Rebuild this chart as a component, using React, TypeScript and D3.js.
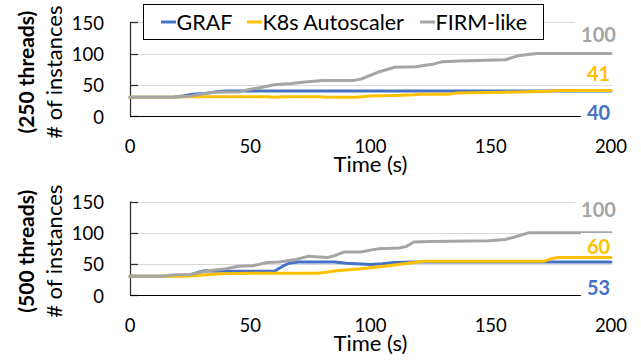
import { useEffect, useRef } from 'react'
import * as d3 from 'd3'

const W = 641
const H = 360
const FONT = 'Lato, Carlito, Calibri, sans-serif'

const X_TICKS = [0, 50, 100, 150, 200]
const Y_TICKS = [0, 50, 100, 150]
const SERIES_NAMES = ['GRAF', 'K8s Autoscaler', 'FIRM-like']
const COLORS = ['#4472C4', '#FFC000', '#A5A5A5']
const PANEL_TITLES = ['(250 threads)', '(500 threads)']

// [time (s), # of instances]
const GRAF_250 = [[0, 30], [18, 30], [22, 32], [26, 35], [31, 36], [36, 39], [40, 40], [200, 40]]
const K8S_250 = [[0, 30], [18, 30], [22, 31], [57, 31], [60, 30], [64, 31], [78, 31], [82, 30], [94, 30], [100, 32], [110, 33], [118, 34], [121, 35], [133, 35], [136, 37], [155, 38], [165, 39], [175, 40], [180, 41], [200, 41]]
const FIRM_250 = [[0, 30], [19, 30], [25, 32], [30, 35], [35, 38], [46, 39], [49, 42], [55, 46], [60, 50], [67, 52], [74, 55], [80, 57], [93, 57], [96, 59], [103, 70], [110, 78], [119, 79], [122, 81], [126, 83], [130, 87], [137, 88], [156, 90], [162, 97], [169, 100], [200, 100]]

const GRAF_500 = [[0, 30], [14, 30], [16, 31], [25, 32], [28, 36], [31, 39], [36, 38], [60, 38], [63, 45], [66, 51], [70, 53], [85, 53], [90, 51], [100, 49], [105, 50], [110, 52], [118, 53], [200, 53]]
const K8S_500 = [[0, 30], [22, 30], [30, 32], [38, 34], [50, 35], [78, 35], [82, 37], [86, 39], [96, 42], [103, 45], [110, 48], [118, 52], [122, 54], [172, 54], [175, 58], [178, 60], [200, 60]]
const FIRM_500 = [[0, 30], [14, 30], [17, 32], [25, 33], [31, 38], [40, 42], [45, 46], [51, 47], [57, 52], [62, 53], [69, 57], [74, 62], [82, 60], [85, 63], [89, 69], [96, 69], [100, 72], [103, 74], [112, 75.5], [115, 78], [118, 85], [125, 86], [149, 87], [156, 89], [160, 93], [166, 100], [200, 100]]

const FINAL_250 = [40, 41, 100]
const FINAL_500 = [53, 60, 100]

const PANELS = [
  { title: PANEL_TITLES[0], series: [GRAF_250, K8S_250, FIRM_250], finals: FINAL_250, y0: 116, y1: 22.3, labelY: [113, 73.5, 34.5] },
  { title: PANEL_TITLES[1], series: [GRAF_500, K8S_500, FIRM_500], finals: FINAL_500, y0: 295, y1: 201.5, labelY: [287.5, 247, 209.5] },
]

function drawPanel(svg: any, p: any) {
  const x = d3.scaleLinear().domain([0, 200]).range([130, 611])
  const y = d3.scaleLinear().domain([0, 150]).range([p.y0, p.y1])
  const g = svg.append('g')
  const py = (d: number) => Math.round(y(d)) + 0.5

  // gridlines
  g.selectAll('.grid').data(Y_TICKS.slice(1)).join('line')
    .attr('x1', 130).attr('x2', 612)
    .attr('y1', py).attr('y2', py)
    .attr('stroke', '#D9D9D9').attr('stroke-width', 1)

  // y axis
  g.append('line').attr('x1', 130.5).attr('x2', 130.5).attr('y1', y(150)).attr('y2', y(0))
    .attr('stroke', '#333').attr('stroke-width', 1.3)
  g.selectAll('.ytick').data(Y_TICKS).join('line')
    .attr('x1', 130).attr('x2', 138)
    .attr('y1', py).attr('y2', py)
    .attr('stroke', '#333').attr('stroke-width', 1.3)
  g.selectAll('.ylab').data(Y_TICKS).join('text')
    .attr('x', 104).attr('y', (d: number) => y(d) + 7.5)
    .attr('text-anchor', 'end').attr('font-family', FONT).attr('font-size', 18.5).attr('fill', '#000')
    .text((d: number) => d)

  // x axis
  g.append('line').attr('x1', 130).attr('x2', 612).attr('y1', py(0)).attr('y2', py(0))
    .attr('stroke', '#000').attr('stroke-width', 1.2)
  g.selectAll('.xlab').data(X_TICKS).join('text')
    .attr('x', (d: number) => x(d)).attr('y', y(0) + 37)
    .attr('text-anchor', 'middle').attr('font-family', FONT).attr('font-size', 18.5).attr('fill', '#000')
    .text((d: number) => d)
  g.append('text').attr('x', x(100)).attr('y', y(0) + 56)
    .attr('text-anchor', 'middle').attr('font-family', FONT).attr('font-size', 22).attr('fill', '#000')
    .text('Time (s)')

  // y titles
  const cy = (p.y0 + p.y1) / 2 + 3
  g.append('text').attr('transform', `translate(25,${cy}) rotate(-90)`)
    .attr('text-anchor', 'middle').attr('dominant-baseline', 'central')
    .attr('font-family', FONT).attr('font-size', 21).attr('font-weight', 700).text(p.title)
  g.append('text').attr('transform', `translate(53.5,${cy}) rotate(-90)`)
    .attr('text-anchor', 'middle').attr('dominant-baseline', 'central')
    .attr('font-family', FONT).attr('font-size', 22).text('# of instances')

  // series
  const line = d3.line<number[]>().x(d => x(d[0])).y(d => y(d[1]))
  p.series.forEach((s: number[][], i: number) => {
    g.append('path').datum(s).attr('d', line)
      .attr('fill', 'none').attr('stroke', COLORS[i]).attr('stroke-width', 3)
      .attr('stroke-linejoin', 'round').attr('stroke-linecap', 'round')
  })

  // end labels (white text boxes)
  p.finals.forEach((v: number, i: number) => {
    const cyL = p.labelY[i]
    const t = g.append('text').attr('x', 598.5).attr('y', cyL + 7)
      .attr('text-anchor', 'middle').attr('font-family', FONT).attr('font-size', 20)
      .attr('font-weight', 700).attr('fill', COLORS[i]).text(v)
    const bb = t.node().getBBox()
    g.insert('rect', () => t.node())
      .attr('x', bb.x - 6).attr('width', bb.width + 12)
      .attr('y', cyL - 14).attr('height', 23).attr('fill', '#fff')
  })
}

function drawLegend(svg: any) {
  const g = svg.append('g')
  g.append('rect').attr('x', 143.5).attr('y', 4.5).attr('width', 400).attr('height', 35)
    .attr('fill', '#fff').attr('stroke', '#000').attr('stroke-width', 1)
  const xs = [161, 247, 420]
  SERIES_NAMES.forEach((name, i) => {
    g.append('line').attr('x1', xs[i]).attr('x2', xs[i] + 15).attr('y1', 22).attr('y2', 22)
      .attr('stroke', COLORS[i]).attr('stroke-width', 3)
    g.append('text').attr('x', xs[i] + 15.5).attr('y', 29.5)
      .attr('font-family', FONT).attr('font-size', 21.5).attr('fill', '#000').text(name)
  })
}

export default function App() {
  const ref = useRef<SVGSVGElement>(null)

  useEffect(() => {
    const svg = d3.select(ref.current)
    svg.selectAll('*').remove()
    PANELS.forEach(p => drawPanel(svg, p))
    drawLegend(svg)
  }, [])

  return (
    <div style={{ position: 'fixed', left: 0, top: 0 }}>
      <svg ref={ref} width={W} height={H} style={{ display: 'block', background: '#fff' }} />
    </div>
  )
}
